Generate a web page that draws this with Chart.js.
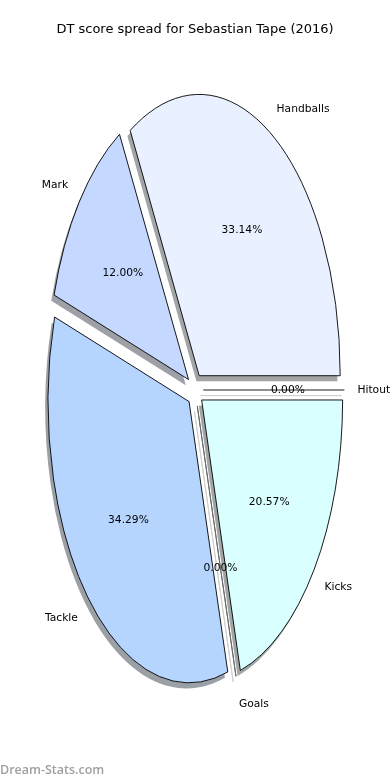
<!DOCTYPE html>
<html><head><meta charset="utf-8">
<script src="https://cdn.jsdelivr.net/npm/chart.js@4.4.1/dist/chart.umd.min.js"></script>
<style>html,body{margin:0;padding:0;background:#fff;}canvas{display:block;}</style>
</head><body>
<canvas id="c" width="390" height="780"></canvas>
<script>
// ---- data (listed clockwise from 3 o'clock) ----
const TITLE = 'DT score spread for Sebastian Tape (2016)';
const WATERMARK = 'Dream-Stats.com';
const categories = ['Hitout', 'Kicks', 'Goals', 'Tackle', 'Mark', 'Handballs'];
const scores = [0, 36, 0, 60, 21, 58];
const sliceColors = ['#e4e4ff', '#d9ffff', '#c4e4ff', '#b5d5ff', '#c5d8ff', '#e9f0ff'];

// ---- styling ----
const STRETCH = 1.995;    // vertical stretch of the pie (ellipse)
const EXPLODE = 8.3;      // px (unstretched)
const SHADOW_DX = -2.8, SHADOW_DY = 5.6; // screen px
const LABEL_FONT = '10.7px "DejaVu Sans"';

function shadowOf(hex){
  const n = parseInt(hex.slice(1),16);
  const c = [(n>>16)&255,(n>>8)&255,n&255].map(v=>Math.round(0.5*0.3*v+127.5));
  return 'rgb('+c.join(',')+')';
}
function geom(chart){
  const meta = chart.getDatasetMeta(0);
  return meta.data.map((el,i)=>{
    const p = el.getProps(['x','y','startAngle','endAngle','outerRadius'], true);
    const mid = (p.startAngle + p.endAngle)/2;
    return {el, i, x:p.x, y:p.y, startAngle:p.startAngle, endAngle:p.endAngle, r:p.outerRadius,
            mid, ox:Math.cos(mid)*EXPLODE, oy:Math.sin(mid)*EXPLODE};
  });
}
function wedgePath(ctx, g, sx, sy){
  ctx.save();
  ctx.translate(sx, sy);
  ctx.translate(g.x, g.y); ctx.scale(1, STRETCH); ctx.translate(-g.x, -g.y);
  ctx.translate(g.ox, g.oy);
  ctx.beginPath();
  ctx.moveTo(g.x, g.y);
  ctx.arc(g.x, g.y, g.r, g.startAngle, g.endAngle);
  ctx.closePath();
  ctx.restore();
}
function toScreen(g, x, y){ return [x, g.y + (y - g.y)*STRETCH]; }

const ellipsePie = {
  id: 'ellipsePie',
  beforeDatasetsDraw(chart){
    const ctx = chart.ctx;
    const gs = geom(chart);
    ctx.save();
    // shadows
    gs.forEach(g=>{
      const col = g.el.options.backgroundColor;
      wedgePath(ctx, g, SHADOW_DX, SHADOW_DY);
      if (g.endAngle - g.startAngle > 0){ ctx.fillStyle = shadowOf(col); ctx.fill(); }
      else { ctx.strokeStyle = '#cfcfcf'; ctx.lineWidth = 1; ctx.stroke(); }
    });
    // wedges
    gs.forEach(g=>{
      wedgePath(ctx, g, 0, 0);
      const empty = !(g.endAngle - g.startAngle > 0);
      if (!empty){ ctx.fillStyle = g.el.options.backgroundColor; ctx.fill(); }
      ctx.strokeStyle = empty ? '#6a6a6a' : g.el.options.borderColor;
      ctx.lineWidth = empty ? 1 : g.el.options.borderWidth;
      ctx.lineJoin = 'miter';
      ctx.stroke();
    });
    ctx.restore();
    return false;
  },
  afterDraw(chart){
    const ctx = chart.ctx;
    const gs = geom(chart);
    const data = chart.data.datasets[0].data;
    const total = data.reduce((a,b)=>a+b,0);
    ctx.save();
    ctx.font = LABEL_FONT;
    ctx.fillStyle = '#000';
    ctx.textBaseline = 'middle';
    gs.forEach(g=>{
      const cx = g.x + g.ox, cy = g.y + g.oy;
      const c = Math.cos(g.mid), s = Math.sin(g.mid);
      const [lx, ly] = toScreen(g, cx + c*g.r*1.1, cy + s*g.r*1.1);
      ctx.textAlign = c > 0 ? 'left' : 'right';
      ctx.fillText(chart.data.labels[g.i], lx - (c > 0 ? 1 : 0), ly + 0.5);
      const [px, py] = toScreen(g, cx + c*g.r*0.6, cy + s*g.r*0.6);
      ctx.textAlign = 'center';
      ctx.fillText((data[g.i]/total*100).toFixed(2)+'%', px, py + 0.5);
    });
    ctx.font = '600 12.5px "Open Sans"';
    ctx.fillStyle = '#a0a0a0';
    ctx.textAlign = 'left';
    ctx.textBaseline = 'alphabetic';
    ctx.fillText(WATERMARK, 0, 774);
    ctx.restore();
  }
};

const TITLE_TOP = 22, TITLE_BOTTOM = 10, TITLE_SIZE = 13;
const titleBox = TITLE_TOP + TITLE_BOTTOM + TITLE_SIZE*1.2;

new Chart(document.getElementById('c'), {
  type: 'pie',
  data: {
    labels: categories,
    datasets: [{
      data: scores,
      backgroundColor: sliceColors,
      borderColor: '#000',
      borderWidth: 0.9
    }]
  },
  options: {
    responsive: false,
    animation: false,
    devicePixelRatio: 1,
    rotation: 90,
    radius: 141,
    layout: { padding: { bottom: titleBox } },
    events: [],
    plugins: {
      legend: { display: false },
      tooltip: { enabled: false },
      title: {
        display: true,
        text: TITLE,
        color: '#000',
        font: { family: 'DejaVu Sans', size: TITLE_SIZE, weight: 'normal', lineHeight: 1.2 },
        padding: { top: TITLE_TOP, bottom: TITLE_BOTTOM }
      }
    }
  },
  plugins: [ellipsePie]
});
</script>
</body></html>
